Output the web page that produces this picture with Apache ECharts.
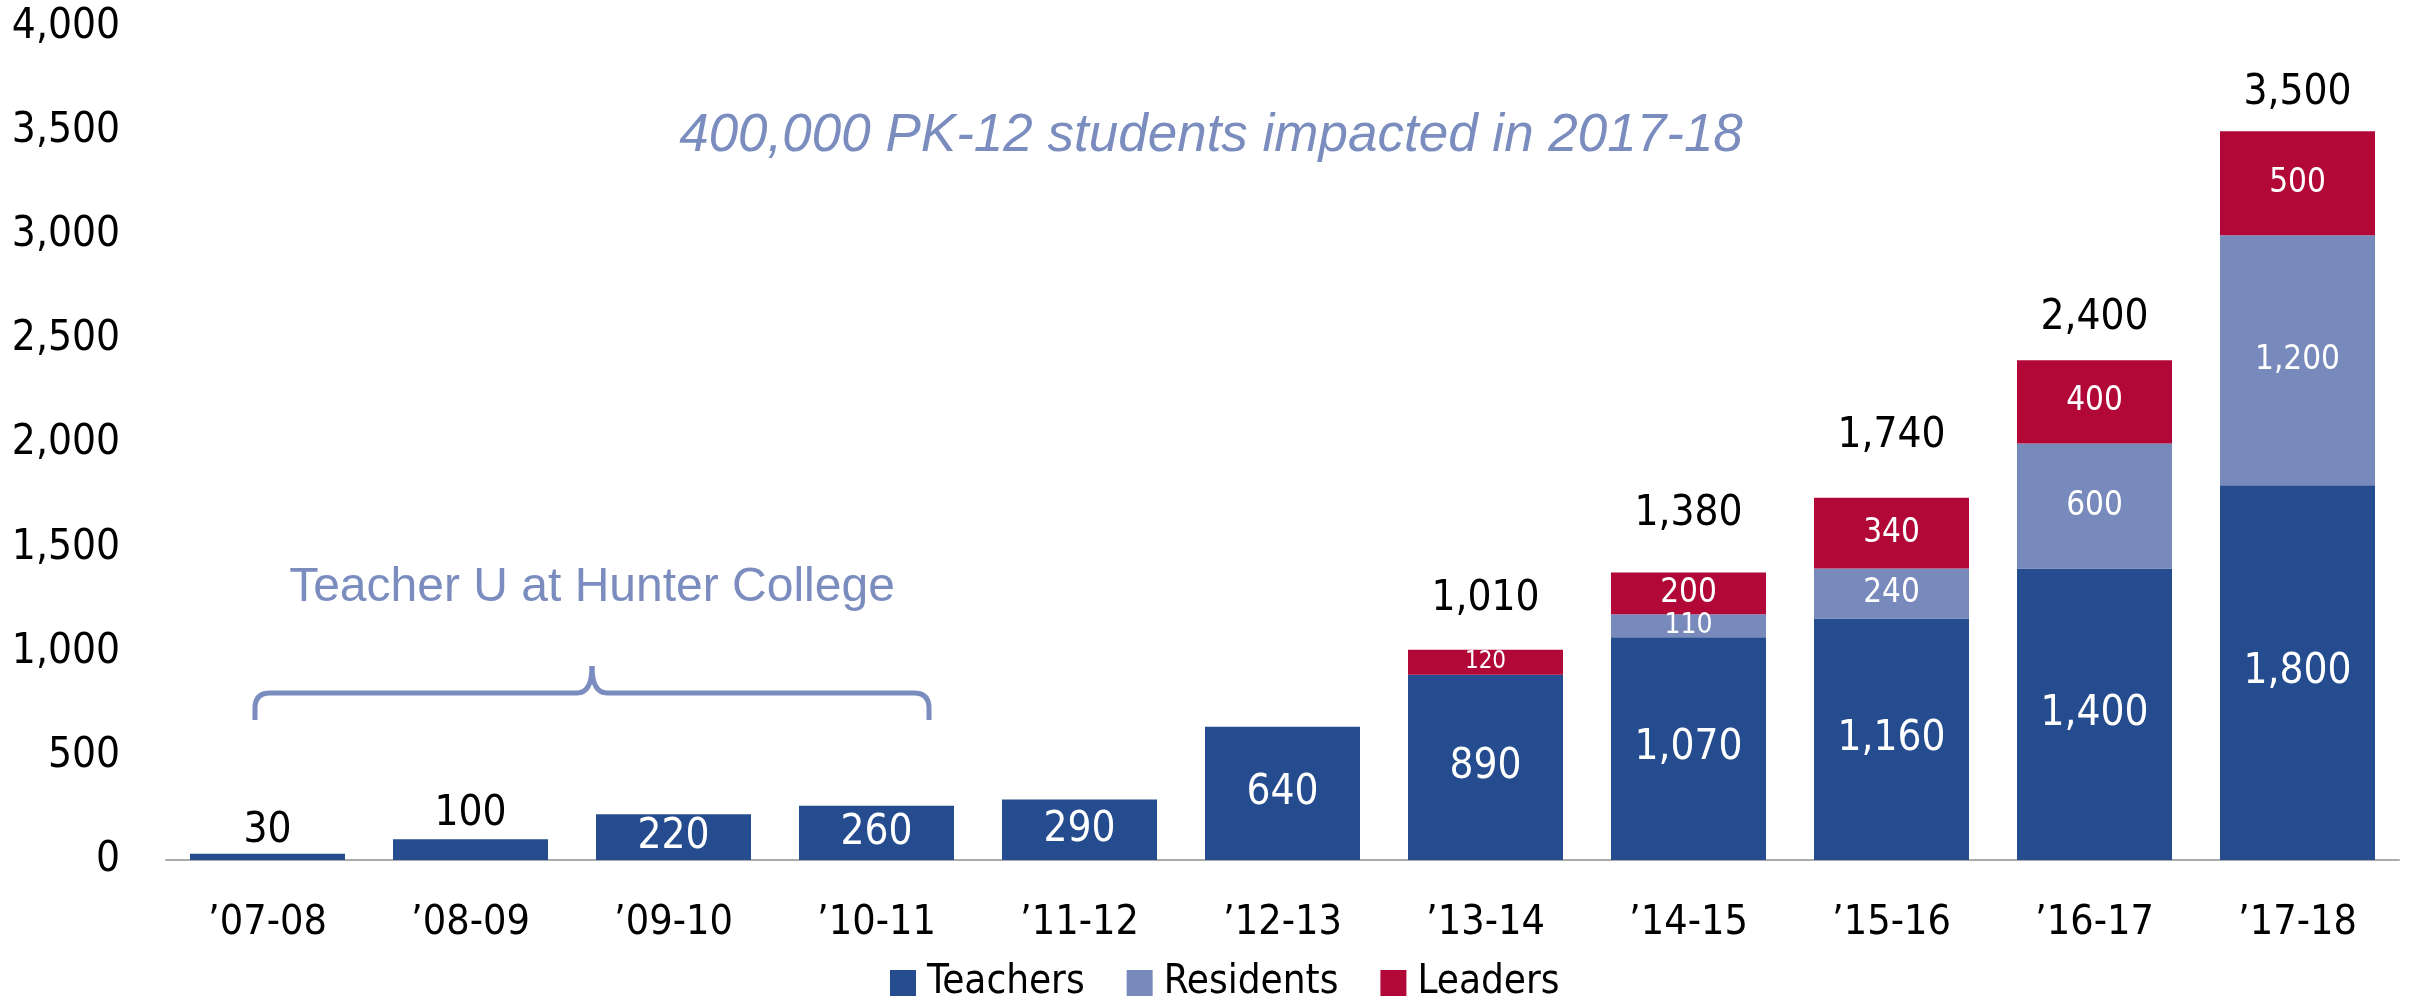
<!DOCTYPE html>
<html>
<head>
<meta charset="utf-8">
<script src="https://cdn.jsdelivr.net/npm/echarts@6/dist/echarts.min.js"></script>
<style>
html,body{margin:0;padding:0;background:#fff;}
#chart{width:2409px;height:998px;}
</style>
</head>
<body>
<div id="chart"></div>
<script>
// ---- data ----
const categories = ['\u201907-08','\u201908-09','\u201909-10','\u201910-11','\u201911-12','\u201912-13','\u201913-14','\u201914-15','\u201915-16','\u201916-17','\u201917-18'];
const teachers  = [30, 100, 220, 260, 290, 640, 890, 1070, 1160, 1400, 1800];
const residents = [null, null, null, null, null, null, null, 110, 240, 600, 1200];
const leaders   = [null, null, null, null, null, null, 120, 200, 340, 400, 500];
const yTicks = [0, 500, 1000, 1500, 2000, 2500, 3000, 3500, 4000];
const seriesNames = ['Teachers', 'Residents', 'Leaders'];
const annotationTop = '400,000 PK-12 students impacted in 2017-18';
const annotationBracket = 'Teacher U at Hunter College';

// ---- styling helpers (not data) ----
const showTotal = [true, true, false, false, false, false, true, true, true, true, true];
const totalLift = [2, 4, 0, 0, 0, 0, 30, 38, 41, 21, 17];
const smallLabelSize = {'120': 24, '110': 28};

const totals = categories.map((_, i) => (teachers[i] || 0) + (residents[i] || 0) + (leaders[i] || 0));
const fmt = v => Number(v).toLocaleString('en-US');

const NARROW = '"Liberation Sans Narrow","Arial Narrow","DejaVu Sans Condensed",sans-serif';
const BIG = 42, MID = 33;
const C_TEACH = '#244C8E';
const C_RES = '#788ABB';
const C_LEAD = '#B20838';
const C_NOTE = '#7B8DBF';

const chart = echarts.init(document.getElementById('chart'), null, {renderer: 'canvas'});

function innerLabel(size) {
  return {show: true, position: 'inside', color: '#fff', fontFamily: NARROW, fontSize: size, lineHeight: size, formatter: p => fmt(p.value)};
}

const teachData = teachers.map((v, i) => showTotal[i] && residents[i] == null && leaders[i] == null
  ? {value: v, label: {show: false}} : {value: v});
const resData = residents.map(v => v == null ? '-' : {value: v, label: {fontSize: smallLabelSize[String(v)] || MID, lineHeight: smallLabelSize[String(v)] || MID}});
const leadData = leaders.map(v => v == null ? '-' : {value: v, label: {fontSize: smallLabelSize[String(v)] || MID, lineHeight: smallLabelSize[String(v)] || MID}});
const totalData = totals.map((v, i) => ({value: v, label: {show: showTotal[i], distance: totalLift[i]}}));

const braceStyle = {stroke: C_NOTE, lineWidth: 5, fill: null, lineCap: 'butt'};
function seg(x1, y1, x2, y2) { return {type: 'line', shape: {x1, y1, x2, y2}, style: braceStyle}; }
function curve(x1, y1, cx, cy, x2, y2) { return {type: 'bezierCurve', shape: {x1, y1, x2, y2, cpx1: cx, cpy1: cy}, style: braceStyle}; }

const option = {
  animation: false,
  backgroundColor: '#fff',
  grid: {left: 166, right: 10, top: 27, bottom: 138, containLabel: false},
  legend: {
    data: seriesNames,
    left: 885, top: 958,
    itemWidth: 26, itemHeight: 26, itemGap: 42,
    icon: 'rect',
    textStyle: {fontFamily: NARROW, fontSize: 40, lineHeight: 40, color: '#000', padding: [0, 0, 0, 6]}
  },
  xAxis: {
    type: 'category',
    data: categories,
    axisTick: {show: false},
    axisLine: {show: true, lineStyle: {color: '#ababab', width: 2}},
    axisLabel: {fontFamily: NARROW, fontSize: 41, lineHeight: 41, color: '#000', margin: 43, interval: 0}
  },
  yAxis: {
    type: 'value',
    min: yTicks[0], max: yTicks[yTicks.length - 1], interval: yTicks[1] - yTicks[0],
    splitLine: {show: false},
    axisLine: {show: false},
    axisTick: {show: false},
    axisLabel: {fontFamily: NARROW, fontSize: BIG, color: '#000', margin: 46, formatter: v => fmt(v)}
  },
  series: [
    {name: seriesNames[0], type: 'bar', stack: 'a', barWidth: 155, barGap: '-100%', data: teachData,
     itemStyle: {color: C_TEACH}, label: innerLabel(BIG)},
    {name: seriesNames[1], type: 'bar', stack: 'a', barWidth: 155, barGap: '-100%', data: resData,
     itemStyle: {color: C_RES}, label: innerLabel(MID)},
    {name: seriesNames[2], type: 'bar', stack: 'a', barWidth: 155, barGap: '-100%', data: leadData,
     itemStyle: {color: C_LEAD}, label: innerLabel(MID)},
    {name: 'Total', type: 'bar', barWidth: 155, barGap: '-100%', data: totalData, z: 1,
     itemStyle: {color: 'rgba(0,0,0,0)'}, silent: true,
     label: {show: true, position: 'top', color: '#000', fontFamily: NARROW, fontSize: BIG, lineHeight: BIG, formatter: p => fmt(p.value)}}
  ],
  graphic: [
    {type: 'text', x: 1211, y: 136,
     style: {text: annotationTop, fill: C_NOTE, font: 'italic 53px "Liberation Sans", Arial, sans-serif', align: 'center', verticalAlign: 'middle'}},
    {type: 'text', x: 592, y: 588,
     style: {text: annotationBracket, fill: C_NOTE, font: '48px "Liberation Sans", Arial, sans-serif', align: 'center', verticalAlign: 'middle'}},
    seg(255, 720, 255, 708),
    curve(255, 708, 255, 693, 270, 693),
    seg(270, 693, 577, 693),
    curve(577, 693, 592, 693, 592, 666),
    curve(592, 666, 592, 693, 607, 693),
    seg(607, 693, 914, 693),
    curve(914, 693, 929, 693, 929, 708),
    seg(929, 708, 929, 720)
  ]
};
chart.setOption(option);
</script>
</body>
</html>
